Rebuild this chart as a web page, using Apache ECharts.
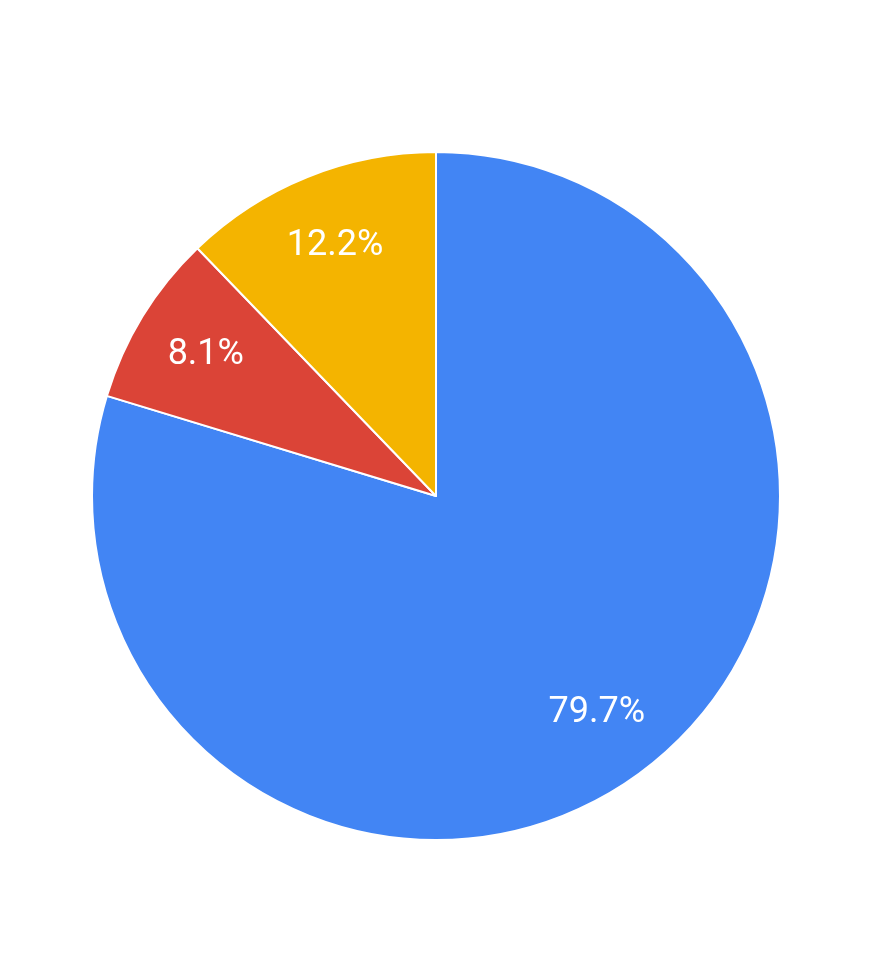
<!DOCTYPE html>
<html>
<head>
<meta charset="utf-8">
<script src="https://cdn.jsdelivr.net/npm/echarts@6/dist/echarts.min.js"></script>
<style>
  html, body { margin: 0; padding: 0; background: #fff; }
  #main { width: 876px; height: 961px; }
</style>
</head>
<body>
<div id="main"></div>
<script>
var names = ['A', 'B', 'C'];
var values = [79.7, 8.1, 12.2];
var colors = ['#4285F4', '#DB4437', '#F4B400'];

var chart = echarts.init(document.getElementById('main'));

var pieData = names.map(function (n, i) {
  return { name: n, value: values[i], itemStyle: { color: colors[i] } };
});

var option = {
  animation: false,
  series: [{
    type: 'pie',
    center: [436, 496],
    radius: [0, 344],
    startAngle: 90,
    clockwise: true,
    data: pieData,
    itemStyle: { borderColor: '#fff', borderWidth: 2 },
    label: { show: false },
    labelLine: { show: false },
    silent: true
  }, {
    // label-only ring so labels sit at ~0.77 of the radius
    type: 'pie',
    center: [436, 496],
    radius: [190, 344],
    startAngle: 90,
    clockwise: true,
    data: names.map(function (n, i) { return { name: n, value: values[i] }; }),
    itemStyle: { color: 'rgba(0,0,0,0)' },
    label: {
      show: true,
      position: 'inside',
      formatter: function (p) { return p.value.toFixed(1) + '%'; },
      color: '#fff',
      fontFamily: 'Roboto',
      fontSize: 36,
      padding: [4, 0, 0, 0]
    },
    labelLine: { show: false },
    silent: true
  }]
};
chart.setOption(option);
</script>
</body>
</html>
